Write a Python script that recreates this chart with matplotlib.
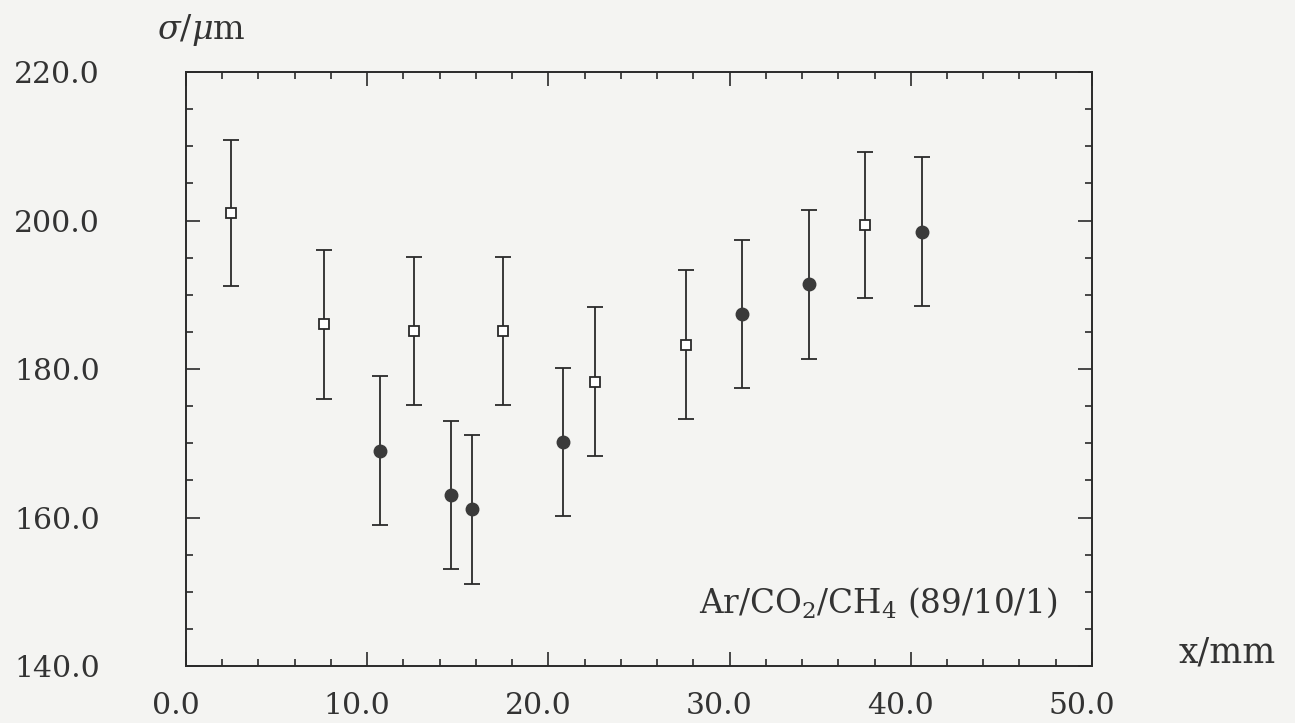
import matplotlib
matplotlib.use("Agg")
import matplotlib.pyplot as plt
from matplotlib.ticker import MultipleLocator, FormatStrFormatter
from matplotlib.transforms import ScaledTranslation

# open squares
sq_x = [2.5, 7.6, 12.6, 17.5, 22.6, 27.6, 37.5]
sq_y = [201.0, 186.0, 185.1, 185.1, 178.3, 183.3, 199.4]
sq_err = [9.8, 10.0, 10.0, 10.0, 10.0, 10.0, 9.8]

# filled circles
ci_x = [10.7, 14.6, 15.8, 20.8, 30.7, 34.4, 40.6]
ci_y = [169.0, 163.0, 161.1, 170.2, 187.4, 191.4, 198.5]
ci_err = [10.0, 10.0, 10.0, 10.0, 10.0, 10.0, 10.0]

x_ticks = [0, 10, 20, 30, 40, 50]
y_ticks = [140, 160, 180, 200, 220]

plt.rcParams['font.family'] = ['DejaVu Serif']
plt.rcParams['mathtext.fontset'] = 'dejavuserif'

paper = '#f4f4f2'
ink = '#2a2a2a'
txt = '#333333'

fig = plt.figure(figsize=(12.95, 7.23), dpi=100, facecolor=paper)
ax = fig.add_axes([0.1436, 0.0788, 0.6996, 0.8216], facecolor=paper)

ax.errorbar(sq_x, sq_y, yerr=sq_err, fmt='s', ms=6.5, mfc='white', mec=ink,
            mew=1.3, ecolor=ink, elinewidth=1.3, capsize=6, capthick=1.3)
ax.errorbar(ci_x, ci_y, yerr=ci_err, fmt='o', ms=9, mfc='#3a3a3a', mec='#3a3a3a',
            ecolor=ink, elinewidth=1.3, capsize=6, capthick=1.3)

ax.set_xlim(0, 50)
ax.set_ylim(140, 220)
ax.set_xticks(x_ticks)
ax.set_yticks(y_ticks)
ax.xaxis.set_minor_locator(MultipleLocator(2))
ax.yaxis.set_minor_locator(MultipleLocator(5))
ax.xaxis.set_major_formatter(FormatStrFormatter('%.1f'))
ax.yaxis.set_major_formatter(FormatStrFormatter('%.1f'))

ax.tick_params(which='both', direction='in', top=True, right=True, color=ink, width=1.2)
ax.tick_params(which='major', length=10)
ax.tick_params(which='minor', length=5)
ax.tick_params(axis='x', which='major', pad=19, labelsize=21.5, labelcolor=txt)
ax.tick_params(axis='y', which='major', pad=62, labelsize=21.5, labelcolor=txt)

# the printed x labels sit a little left of their ticks
shift = ScaledTranslation(-0.10, 0, fig.dpi_scale_trans)
for lab in ax.get_xticklabels():
    lab.set_transform(lab.get_transform() + shift)

for sp in ax.spines.values():
    sp.set_color(ink)
    sp.set_linewidth(1.4)

ax.set_ylabel(r'$\sigma/\mu$m', rotation=0, fontsize=24, color=txt,
              ha='center', va='center')
ax.yaxis.set_label_coords(0.017, 1.071)
ax.set_xlabel('x/mm', fontsize=25, color=txt, ha='center', va='center')
ax.xaxis.set_label_coords(1.149, 0.022)

ax.text(0.962, 0.106, r'Ar/CO$_2$/CH$_4$ (89/10/1)', transform=ax.transAxes,
        ha='right', va='center', fontsize=23.5, color=txt)

fig.savefig('out.png', dpi=100, facecolor=paper)
